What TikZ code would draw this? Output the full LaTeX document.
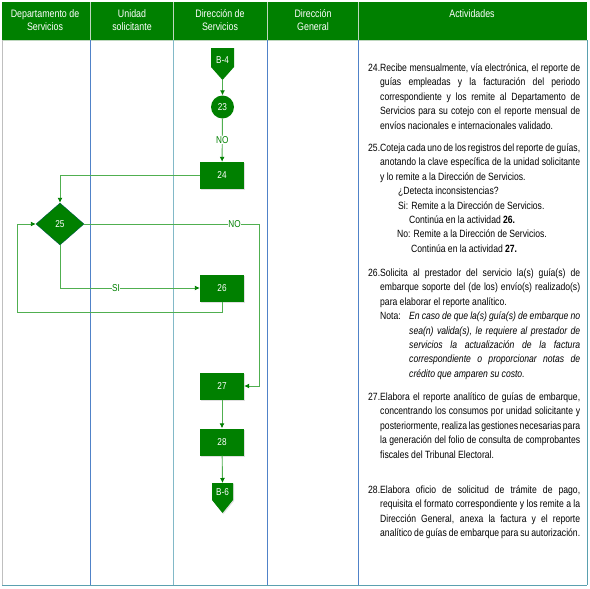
\documentclass[tikz,border=0pt]{standalone}
\usepackage{fontspec}
\setmainfont{Liberation Sans}[FakeStretch=0.82]
\usetikzlibrary{shapes.geometric,arrows.meta,shadows}
\definecolor{hdr}{RGB}{0,128,0}
\definecolor{nodegreen}{RGB}{0,128,0}
\definecolor{conncol}{RGB}{80,175,80}
\definecolor{lane}{RGB}{80,130,200}
\definecolor{lanelight}{RGB}{130,185,200}
\definecolor{hdrsep}{RGB}{190,215,190}
\definecolor{outer}{RGB}{90,160,175}
\newcommand{\actfont}{\fontsize{10.5}{14.4}\selectfont\spaceskip=0.22em plus 1em minus 0.1em\relax}
% justified line, full body width
\newcommand{\jl}[1]{\makebox[\linewidth][s]{#1}\par}
% justified line, indented (Nota block)
\newcommand{\jli}[1]{\hspace*{29pt}\makebox[\dimexpr\linewidth-29pt\relax][s]{#1}\par}
\newcommand{\num}[1]{\llap{\makebox[12pt][l]{#1}}}
\tikzset{
  hdrtext/.style={text=white, align=center, inner sep=0pt, font=\fontsize{10.8}{13}\selectfont},
  proc/.style={rectangle, fill=nodegreen, text=white, minimum width=44pt, minimum height=27pt,
    inner sep=0pt, font=\fontsize{10}{12}\selectfont,
    drop shadow={opacity=0.25, shadow xshift=1pt, shadow yshift=-1pt}},
  conncirc/.style={circle, fill=nodegreen, text=white, minimum size=23pt, inner sep=0pt,
    font=\fontsize{10}{12}\selectfont},
  decision/.style={diamond, fill=nodegreen, draw=nodegreen!70!blue, line width=0.4pt, text=white,
    minimum width=48pt, minimum height=42pt, inner sep=0pt, font=\fontsize{10}{12}\selectfont},
  offtext/.style={text=white, inner sep=0pt, font=\fontsize{10}{12}\selectfont},
  arr/.style={draw=conncol, line width=0.9pt, -{Latex[length=5pt,width=5pt,color=nodegreen]}},
  lbl/.style={fill=white, text=nodegreen, inner sep=0.5pt, font=\fontsize{10}{12}\selectfont},
  act/.style={anchor=base west, inner sep=0pt, font=\actfont},
}
\begin{document}
\begin{tikzpicture}[x=1pt,y=-1pt]
\useasboundingbox (0,0) rectangle (590,589);
\fill[white] (0,0) rectangle (590,589);
% header
\fill[hdr] (2,2) rectangle (587,40);
\foreach \xx in {90,173,267,358} \draw[hdrsep, line width=0.8pt] (\xx,2) -- (\xx,40);
\draw[hdrsep, line width=0.8pt] (2,40) -- (587,40);
% lanes
\draw[lane, line width=0.8pt] (90,40) -- (90,585);
\draw[lanelight, line width=0.8pt] (173,40) -- (173,585);
\draw[lane, line width=0.8pt] (267,40) -- (267,585);
\draw[lane, line width=0.8pt] (358,40) -- (358,585);
\draw[gray!50, line width=0.8pt] (2,40) -- (2,585);
\draw[outer, line width=0.8pt] (587,40) -- (587,585);
\draw[outer, line width=0.8pt] (2,585) -- (587,585);
% header texts
\node[hdrtext] (h1) at (45,20.5) {Departamento de\\Servicios};
\node[hdrtext] (h2) at (132,20.5) {Unidad\\solicitante};
\node[hdrtext] (h3) at (220,20.5) {Dirección de\\Servicios};
\node[hdrtext] (h4) at (313,20.5) {Dirección\\General};
\node[hdrtext] (h5) at (472,14) {Actividades};
% off-page connector B-4
\fill[nodegreen] (211,48) -- (234,48) -- (234,67) -- (222.5,80) -- (211,67) -- cycle;
\node[offtext] (b4) at (222.5,60.5) {B-4};
\coordinate (b4tip) at (222.5,80);
% nodes
\node[conncirc] (n23) at (222.5,107) {23};
\node[proc] (n24) at (222,175.5) {24};
\node[decision] (n25) at (60,224) {25};
\node[proc] (n26) at (222,288) {26};
\node[proc] (n27) at (222,386) {27};
\node[proc] (n28) at (222,442) {28};
% off-page connector B-6
\fill[nodegreen, drop shadow={opacity=0.25, shadow xshift=1pt, shadow yshift=-1pt}] (212,483) -- (233,483) -- (233,500) -- (222.5,513) -- (212,500) -- cycle;
\node[offtext] (b6) at (222.5,492) {B-6};
\coordinate (b6top) at (222.5,483);
\coordinate (noturn) at (259,224);
\coordinate (loopc) at (17,312);
% connectors
\draw[arr] (b4tip) -- (n23);
\draw[arr] (n23) -- node[lbl]{NO} (n24);
\draw[arr] (n24.west) -| (n25.north);
\draw[arr] (n25.east) -- node[lbl,pos=0.86]{NO} (noturn) |- (n27.east);
\draw[arr] (n25.south) |- node[lbl,pos=0.7]{SI} (n26.west);
\draw[arr] (n26.south) |- (loopc) |- (n25.west);
\draw[arr] (n27) -- (n28);
\draw[arr] (n28) -- (b6top);
% activities
\node[act] (a24) at (380,71.5) {\parbox[t]{200pt}{%
\jl{\num{24.}Recibe mensualmente, vía electrónica, el reporte de}
\jl{guías empleadas y la facturación del periodo}
\jl{correspondiente y los remite al Departamento de}
\jl{Servicios para su cotejo con el reporte mensual de}
envíos nacionales e internacionales validado.\par}};
\node[act] (a25) at (380,151.5) {\parbox[t]{200pt}{%
\jl{\num{25.}Coteja cada uno de los registros del reporte de guías,}
\jl{anotando la clave específica de la unidad solicitante}
y lo remite a la Dirección de Servicios.\par
\hspace*{18pt}¿Detecta inconsistencias?\par
\hspace*{18pt}Si: Remite a la Dirección de Servicios.\par
\hspace*{29pt}Continúa en la actividad \textbf{26.}\par
\hspace*{17pt}No: Remite a la Dirección de Servicios.\par
\hspace*{31pt}Continúa en la actividad \textbf{27.}\par}};
\node[act] (a26) at (380,276.5) {\parbox[t]{200pt}{%
\jl{\num{26.}Solicita al prestador del servicio la(s) guía(s) de}
\jl{embarque soporte del (de los) envío(s) realizado(s)}
para elaborar el reporte analítico.\par
\makebox[29pt][l]{Nota:}\textit{En caso de que la(s) guía(s) de embarque no}\par
\jli{\itshape sea(n) valida(s), le requiere al prestador de}
\jli{\itshape servicios la actualización de la factura}
\jli{\itshape correspondiente o proporcionar notas de}
\hspace*{29pt}\textit{crédito que amparen su costo.}\par}};
\node[act] (a27) at (380,400.5) {\parbox[t]{200pt}{%
\jl{\num{27.}Elabora el reporte analítico de guías de embarque,}
\jl{concentrando los consumos por unidad solicitante y}
\jl{posteriormente, realiza las gestiones necesarias para}
\jl{la generación del folio de consulta de comprobantes}
fiscales del Tribunal Electoral.\par}};
\node[act] (a28) at (380,493.5) {\parbox[t]{200pt}{%
\jl{\num{28.}Elabora oficio de solicitud de trámite de pago,}
\jl{requisita el formato correspondiente y los remite a la}
\jl{Dirección General, anexa la factura y el reporte}
analítico de guías de embarque para su autorización.\par}};
\end{tikzpicture}
\end{document}
